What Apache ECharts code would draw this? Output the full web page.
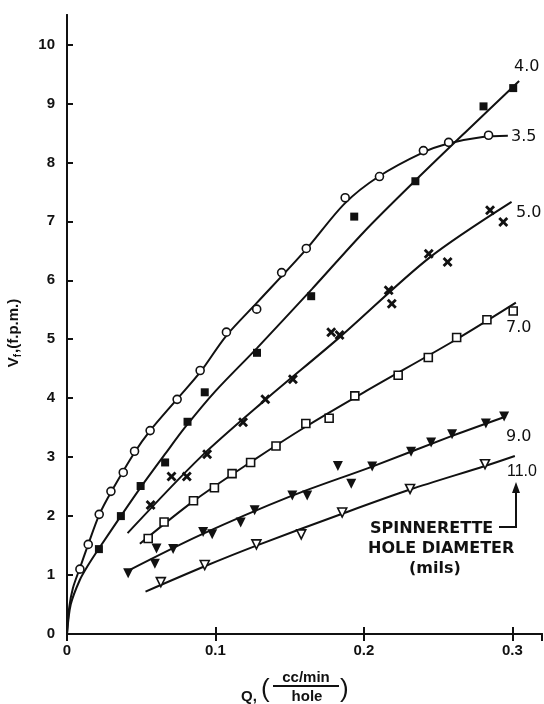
<!DOCTYPE html>
<html><head><meta charset="utf-8">
<script src="https://cdn.jsdelivr.net/npm/echarts@6/dist/echarts.min.js"></script>
<style>html,body{margin:0;padding:0;background:#fff}#c{width:544px;height:704px}</style>
</head><body><div id="c"></div>
<script>
// ---- data (Q in cc/min/hole, Vf in f.p.m.) ----
const xTickLabels = ['0', '0.1', '0.2', '0.3'];
const yTickLabels = ['0','1','2','3','4','5','6','7','8','9','10'];
const diameters = ['3.5', '4.0', '5.0', '7.0', '9.0', '11.0'];

// measured points
const pts35 = [[0.0087,1.10],[0.0143,1.52],[0.0217,2.03],[0.0296,2.42],[0.0379,2.74],[0.0455,3.10],[0.056,3.45],[0.0742,3.98],[0.0897,4.47],[0.1074,5.12],[0.1278,5.51],[0.1446,6.13],[0.1612,6.54],[0.1874,7.40],[0.2105,7.76],[0.2401,8.20],[0.2571,8.34],[0.284,8.46]];
const pts40 = [[0.0215,1.44],[0.0363,2.00],[0.0496,2.51],[0.0661,2.91],[0.0812,3.60],[0.0928,4.10],[0.128,4.77],[0.1645,5.73],[0.1935,7.08],[0.2347,7.68],[0.2806,8.95],[0.3006,9.26]];
const pts50 = [[0.0563,2.19],[0.0704,2.67],[0.0807,2.67],[0.0944,3.05],[0.1186,3.59],[0.1336,3.98],[0.1522,4.32],[0.178,5.12],[0.1836,5.07],[0.2167,5.83],[0.2188,5.60],[0.2437,6.45],[0.2564,6.31],[0.285,7.19],[0.2939,6.99]];
const pts70 = [[0.0547,1.62],[0.0654,1.90],[0.0852,2.26],[0.0993,2.48],[0.1112,2.72],[0.1237,2.91],[0.1408,3.19],[0.1609,3.57],[0.1766,3.66],[0.1939,4.04],[0.2231,4.39],[0.2434,4.69],[0.2625,5.03],[0.2829,5.33],[0.3006,5.48]];
const pts90 = [[0.0412,1.03],[0.0592,1.19],[0.0603,1.45],[0.0715,1.44],[0.0917,1.73],[0.0978,1.69],[0.117,1.89],[0.1264,2.10],[0.1518,2.35],[0.1618,2.35],[0.1825,2.85],[0.1915,2.55],[0.2056,2.84],[0.2318,3.09],[0.2453,3.25],[0.2594,3.39],[0.2822,3.57],[0.2945,3.69]];
const pts110 = [[0.0632,0.88],[0.0928,1.17],[0.1276,1.52],[0.1578,1.69],[0.1854,2.06],[0.2311,2.46],[0.2816,2.88]];

// fitted curves as drawn on the picture
const curve35 = [[0,0],[0.0015,0.45],[0.004,0.78],[0.0087,1.12],[0.0143,1.52],[0.0217,2.02],[0.03,2.42],[0.0455,3.08],[0.056,3.45],[0.074,3.98],[0.09,4.45],[0.107,5.05],[0.128,5.62],[0.161,6.52],[0.187,7.3],[0.21,7.76],[0.24,8.17],[0.257,8.32],[0.28,8.43],[0.297,8.45]];
const curve40 = [[0,0],[0.0025,0.5],[0.0087,0.92],[0.0143,1.17],[0.0215,1.45],[0.036,1.99],[0.05,2.5],[0.066,3.05],[0.08,3.52],[0.1,4.12],[0.128,4.85],[0.165,5.85],[0.2,6.82],[0.235,7.7],[0.27,8.55],[0.3046,9.38]];
const curve50 = [[0.0408,1.71],[0.09,3.0],[0.134,3.98],[0.184,5.04],[0.244,6.38],[0.2995,7.33]];
const curve70 = [[0.0491,1.53],[0.085,2.25],[0.124,2.92],[0.161,3.52],[0.2,4.1],[0.2625,5.0],[0.3024,5.62]];
const curve90 = [[0.041,1.07],[0.09,1.68],[0.15,2.33],[0.2056,2.84],[0.2594,3.36],[0.2957,3.69]];
const curve110 = [[0.0529,0.72],[0.0928,1.15],[0.1276,1.5],[0.1854,2.04],[0.2311,2.45],[0.2816,2.85],[0.3017,3.02]];

// ---- chart ----
const FONT = 'Liberation Sans';
const black = '#111';
const chart = echarts.init(document.getElementById('c'), null, {renderer: 'canvas'});
const crossPath = 'path://M0,2 L2,0 L5,3 L8,0 L10,2 L7,5 L10,8 L8,10 L5,7 L2,10 L0,8 L3,5 Z';

function curve(data) {
  return {type: 'line', data: data, showSymbol: false, smooth: 0.3,
    lineStyle: {color: black, width: 2}, z: 2, silent: true};
}
function scatter(data, symbol, size, fill, rotate) {
  return {type: 'scatter', data: data, symbol: symbol, symbolSize: size, symbolRotate: rotate || 0,
    itemStyle: {color: fill, borderColor: black, borderWidth: fill === '#fff' ? 1.6 : 0, opacity: 1}, z: 3};
}

const curves = [curve35, curve40, curve50, curve70, curve90, curve110];
const series = curves.map(curve).concat([
  scatter(pts35, 'circle', 8, '#fff'),
  scatter(pts40, 'rect', 8, black),
  scatter(pts50, crossPath, 10, black),
  scatter(pts70, 'rect', 8, '#fff'),
  scatter(pts90, 'triangle', 10, black, 180),
  scatter(pts110, 'triangle', 9, '#fff', 180)
]);

const labelStyle = {fontFamily: FONT, fontSize: 15, fontWeight: 'bold', fill: black};
const noteStyle = {fontFamily: 'DejaVu Sans', fontSize: 16, fontWeight: 'bold'};
const curveLabelStyle = {fontFamily: 'DejaVu Sans', fontSize: 16, fontWeight: 'normal'};
function txt(t, x, y, extra) {
  return {type: 'text', x: x, y: y, style: Object.assign({text: t, textAlign: 'left', textVerticalAlign: 'middle'}, labelStyle, extra || {})};
}

const option = {
  animation: false,
  backgroundColor: '#fff',
  grid: {left: 67, right: 2, top: 15, bottom: 70, containLabel: false},
  xAxis: [{
    type: 'value', min: 0, max: 0.32, interval: 0.1, position: 'bottom',
    axisLine: {show: true, lineStyle: {color: black, width: 2}},
    axisTick: {show: true, inside: true, length: 7, lineStyle: {color: black, width: 2}},
    splitLine: {show: false},
    axisLabel: {show: true, showMaxLabel: false, margin: 9, color: black, fontFamily: FONT, fontSize: 15, fontWeight: 'bold',
      formatter: function (v) { const i = Math.round(v * 10); return Math.abs(v * 10 - i) < 1e-6 && i < xTickLabels.length ? xTickLabels[i] : ''; }}
  }, {
    type: 'value', min: 0, max: 0.32, interval: 0.1, position: 'top',
    axisLine: {show: true, lineStyle: {color: black, width: 2}},
    axisTick: {show: true, inside: true, length: 7, lineStyle: {color: black, width: 2}},
    splitLine: {show: false}, axisLabel: {show: false}
  }],
  yAxis: [{
    type: 'value', min: 0, max: 10.5, interval: 1, position: 'left',
    axisLine: {show: true, lineStyle: {color: black, width: 2}},
    axisTick: {show: true, inside: true, length: 6, lineStyle: {color: black, width: 2}},
    splitLine: {show: false},
    axisLabel: {show: true, showMaxLabel: false, margin: 12, color: black, fontFamily: FONT, fontSize: 15, fontWeight: 'bold',
      formatter: function (v) { const i = Math.round(v); return Math.abs(v - i) < 1e-6 && i < yTickLabels.length ? yTickLabels[i] : ''; }}
  }, {
    type: 'value', min: 0, max: 10.5, interval: 1, position: 'right',
    axisLine: {show: true, lineStyle: {color: black, width: 2}},
    axisTick: {show: false}, splitLine: {show: false}, axisLabel: {show: false}
  }],
  series: series,
  graphic: [
    // curve labels
    txt(diameters[1], 514, 67, curveLabelStyle),
    txt(diameters[0], 511, 137, curveLabelStyle),
    txt(diameters[2], 516, 213, curveLabelStyle),
    txt(diameters[3], 506, 328, curveLabelStyle),
    txt(diameters[4], 506, 437, curveLabelStyle),
    txt(diameters[5], 507, 472, Object.assign({}, curveLabelStyle, {fontFamily: FONT})),
    // legend note
    txt('SPINNERETTE', 370, 529, noteStyle),
    txt('HOLE DIAMETER', 368, 549, noteStyle),
    txt('(mils)', 409, 569, noteStyle),
    {type: 'polyline', shape: {points: [[499, 527], [516, 527], [516, 490]]}, style: {stroke: black, lineWidth: 2, fill: null}},
    {type: 'polygon', shape: {points: [[516, 482], [512, 493], [520, 493]]}, style: {fill: black}},
    // y-axis name
    {type: 'text', x: 14, y: 333, rotation: Math.PI / 2,
      style: {text: 'V{s|f}{n|,(f.p.m.)}', textAlign: 'center', textVerticalAlign: 'middle', fontFamily: FONT, fontSize: 15, fontWeight: 'bold', fill: black,
        rich: {s: {fontSize: 10, fontFamily: FONT, fontWeight: 'bold', padding: [8, 1, 0, 0]},
               n: {fontSize: 15, fontFamily: FONT, fontWeight: 'bold'}}}},
    // x-axis name (fraction)
    txt('Q,', 241, 697),
    txt('(', 261, 690, {fontSize: 26, fontWeight: 'normal'}),
    {type: 'text', x: 306, y: 678, style: Object.assign({text: 'cc/min', textAlign: 'center', textVerticalAlign: 'middle'}, labelStyle)},
    {type: 'line', shape: {x1: 273, y1: 686, x2: 339, y2: 686}, style: {stroke: black, lineWidth: 2}},
    {type: 'text', x: 307, y: 697, style: Object.assign({text: 'hole', textAlign: 'center', textVerticalAlign: 'middle'}, labelStyle)},
    txt(')', 340, 690, {fontSize: 26, fontWeight: 'normal'})
  ]
};
chart.setOption(option);
</script>
</body></html>
